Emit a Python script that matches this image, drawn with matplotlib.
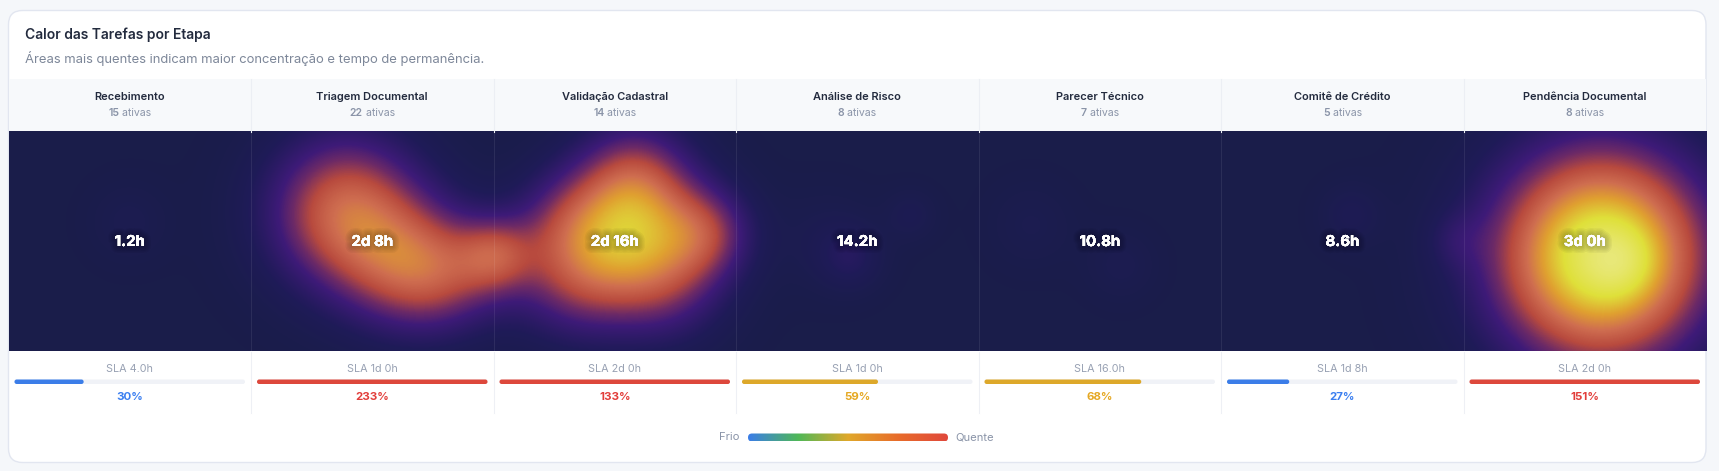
import numpy as np
import matplotlib
matplotlib.use("Agg")
import matplotlib.pyplot as plt
import matplotlib.patheffects as pe
from matplotlib.colors import LinearSegmentedColormap
from matplotlib.patches import FancyBboxPatch, Rectangle

plt.rcParams["font.family"] = ["Inter", "DejaVu Sans"]

# Stage data
stages = ["Recebimento", "Triagem Documental", "Validação Cadastral", "Análise de Risco",
          "Parecer Técnico", "Comitê de Crédito", "Pendência Documental"]
active = [15, 22, 14, 8, 7, 5, 8]
durations = ["1.2h", "2d 8h", "2d 16h", "14.2h", "10.8h", "8.6h", "3d 0h"]
sla_labels = ["SLA 4.0h", "SLA 1d 0h", "SLA 2d 0h", "SLA 1d 0h", "SLA 16.0h", "SLA 1d 8h", "SLA 2d 0h"]
sla_pct = [30, 233, 133, 59, 68, 27, 151]

# Heat sources: x, y, strength, spread
heat_x = [128, 345, 400, 448, 495, 630, 575, 665, 635, 708, 560, 850, 825, 910, 1030, 1120,
          1350, 1455, 1600, 1620]
heat_y = [222, 212, 268, 272, 255, 223, 272, 280, 172, 232, 215, 258, 240, 215, 225, 265,
          215, 240, 256, 262]
heat_a = [.05, .52, .28, .28, .28, .48, .34, .26, .22, .26, .12, .10, .05, .06, .045, .05,
          .07, .07, .92, .10]
heat_s = [28, 54, 45, 42, 26, 48, 46, 44, 40, 32, 35, 22, 35, 18, 30, 25,
          22, 20, 74, 24]

W, H = 1719, 471
LEFT, RIGHT = 8.5, 1706.0
CARD_TOP, CARD_BOTTOM = 10.5, 462.5
HEAD_TOP, HEAT_TOP, HEAT_BOTTOM, FOOT_BOTTOM = 78.5, 131.5, 351.5, 413.0
COL = (RIGHT - LEFT) / len(stages)

fig = plt.figure(figsize=(W / 100, H / 100), dpi=100, facecolor="#f5f7fa")
ax = fig.add_axes([0, 0, 1, 1])
ax.set_xlim(0, W)
ax.set_ylim(H, 0)
ax.axis("off")


def px(size):
    return size * 0.72


def rounded(x0, y0, x1, y1, r, **kw):
    p = FancyBboxPatch((x0 + r, y0 + r), x1 - x0 - 2 * r, y1 - y0 - 2 * r,
                       boxstyle=f"round,pad={r},rounding_size={r}", **kw)
    ax.add_patch(p)
    return p


rounded(LEFT, CARD_TOP, RIGHT, CARD_BOTTOM, 14, fc="white", ec="#e2e6f0", lw=1, zorder=1)

ax.text(25, 35, "Calor das Tarefas por Etapa", fontsize=px(13.85), fontweight=600,
        color="#232b3e", va="center", zorder=5)
ax.text(25, 59, "Áreas mais quentes indicam maior concentração e tempo de permanência.",
        fontsize=px(13), color="#7d8799", va="center", zorder=5)

ax.add_patch(Rectangle((LEFT, HEAD_TOP), RIGHT - LEFT, HEAT_TOP - HEAD_TOP,
                       fc="#f7f9fb", ec="none", zorder=2))

# Heat field
cmap = LinearSegmentedColormap.from_list("heat", [
    (0.00, "#1a1d4a"), (0.10, "#1f1b58"), (0.24, "#3e1a78"), (0.33, "#6d2a66"),
    (0.44, "#b84a3e"), (0.56, "#cf6e50"), (0.68, "#e0a030"), (0.82, "#dfe03a"),
    (1.00, "#e8e878")])
xx, yy = np.meshgrid(np.arange(LEFT, RIGHT), np.arange(HEAT_TOP, HEAT_BOTTOM))
field = np.zeros_like(xx)
for x0, y0, a, s in zip(heat_x, heat_y, heat_a, heat_s):
    field += a * np.exp(-((xx - x0) ** 2 + (yy - y0) ** 2) / (2 * s ** 2))
ax.imshow(np.clip(field, 0, 1), cmap=cmap, vmin=0, vmax=1, aspect="auto", zorder=3,
          extent=(LEFT, RIGHT, HEAT_BOTTOM, HEAT_TOP), interpolation="bilinear")
ax.set_xlim(0, W)
ax.set_ylim(H, 0)

renderer = fig.canvas.get_renderer()
BAR_COLOR = {"low": "#3b7de8", "mid": "#dda82a", "high": "#dd483c"}
TXT_COLOR = {"low": "#3b7ff0", "mid": "#e5a823", "high": "#e23d3a"}

for i, name in enumerate(stages):
    x0 = LEFT + i * COL
    cx = x0 + COL / 2
    if i:
        ax.plot([x0, x0], [HEAD_TOP, HEAT_TOP], color="#eceff4", lw=0.8, zorder=4)
        ax.plot([x0, x0], [HEAT_TOP, HEAT_BOTTOM], color="white", alpha=0.08, lw=0.8, zorder=4)
        ax.plot([x0, x0], [HEAT_BOTTOM, FOOT_BOTTOM], color="#eef0f5", lw=0.8, zorder=4)

    ax.text(cx, 97, name, fontsize=px(11.05), fontweight=600, color="#232b3e",
            ha="center", va="center", zorder=5)

    # Count and caption share one centred line, so measure both pieces first
    a = ax.text(0, 113, str(active[i]), fontsize=px(10.5), fontweight=600, color="#8a94a8",
                va="center", zorder=5)
    b = ax.text(0, 113, " ativas", fontsize=px(10.5), color="#8a94a8", va="center", zorder=5)
    wa = a.get_window_extent(renderer).width
    wb = b.get_window_extent(renderer).width
    a.set_x(cx - (wa + wb) / 2)
    b.set_x(cx - (wa + wb) / 2 + wa)

    t = ax.text(cx, 242, durations[i], fontsize=px(15), fontweight=700, color="white",
                ha="center", va="center", zorder=6)
    t.set_path_effects([pe.withStroke(linewidth=w, foreground=(0, 0, 0, 0.045))
                        for w in (10, 8, 6, 4, 2)] + [pe.Normal()])

    ax.text(cx, 368.5, sla_labels[i], fontsize=px(10.8), color="#98a1b3",
            ha="center", va="center", zorder=5)

    pct = sla_pct[i]
    level = "high" if pct > 100 else "mid" if pct >= 50 else "low"
    bx0, bx1 = x0 + 6, x0 + COL - 6
    rounded(bx0, 379.5, bx1, 384, 2.2, fc="#f0f2f7", ec="none", zorder=4)
    rounded(bx0, 379.5, bx0 + (bx1 - bx0) * min(pct, 100) / 100, 384, 2.2,
            fc=BAR_COLOR[level], ec="none", zorder=5)
    ax.text(cx, 396.5, f"{pct}%", fontsize=px(11.5), fontweight=700, color=TXT_COLOR[level],
            ha="center", va="center", zorder=5)

# Legend
ramp = LinearSegmentedColormap.from_list("ramp", [
    (0, "#3b7de8"), (0.25, "#4fb858"), (0.5, "#e0a82a"), (0.75, "#e86c2a"), (1, "#e0483c")])
im = ax.imshow(np.linspace(0, 1, 256)[None, :], cmap=ramp, aspect="auto", zorder=5,
               extent=(748, 948, 441.5, 433.5))
clip = rounded(748, 433.5, 948, 441.5, 4, fc="none", ec="none", zorder=5)
im.set_clip_path(clip)
ax.set_xlim(0, W)
ax.set_ylim(H, 0)
ax.text(740, 437.5, "Frio", fontsize=px(11.3), color="#8a94a8", ha="right", va="center", zorder=5)
ax.text(955.5, 437.5, "Quente", fontsize=px(11.3), color="#8a94a8", ha="left", va="center", zorder=5)

fig.savefig("out.png", dpi=100, facecolor=fig.get_facecolor())
